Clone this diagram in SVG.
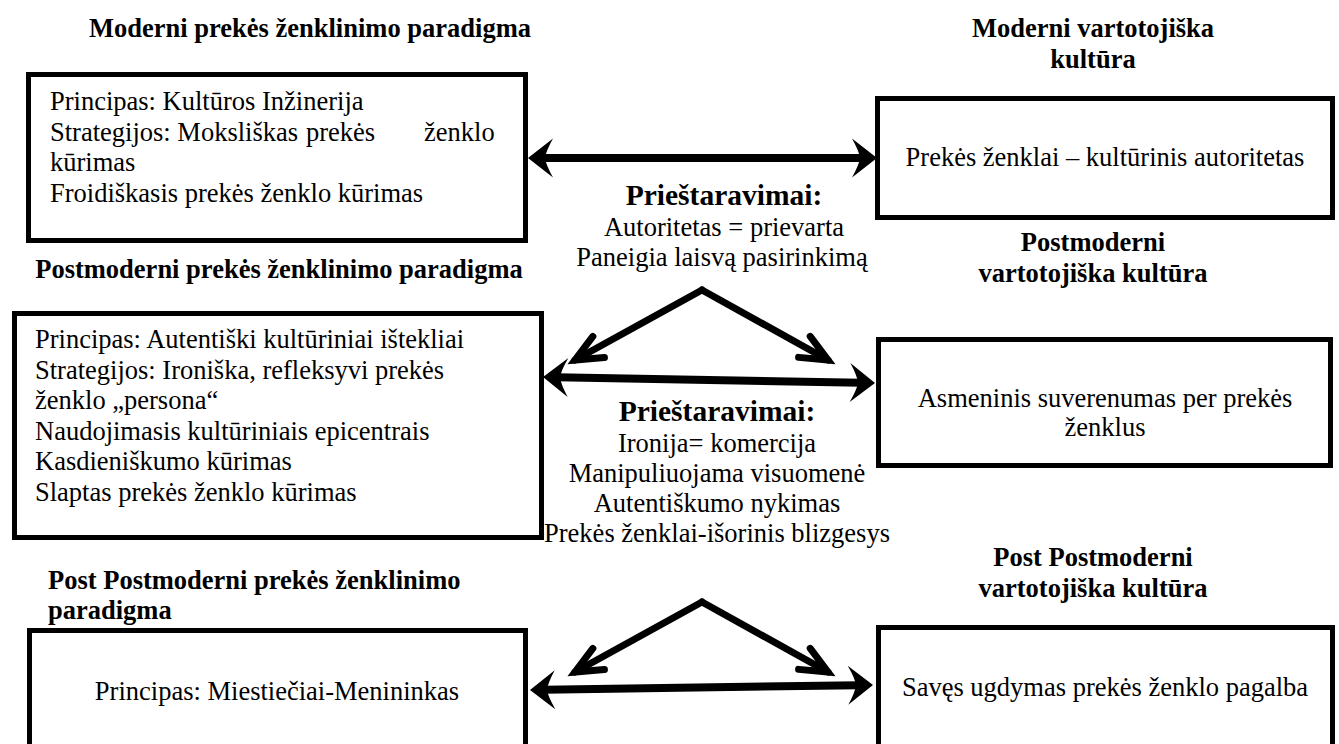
<svg xmlns="http://www.w3.org/2000/svg" width="1339" height="744" viewBox="0 0 1339 744">
  <style>
    text { font-family: "Liberation Serif", Tinos, "Nimbus Roman", "Times New Roman", Times, "DejaVu Serif", "Noto Serif", serif; fill: #000; }
    .body { font-size: 26.5px; }
    .title { font-size: 26.5px; font-weight: bold; }
    .head { font-size: 29.5px; font-weight: bold; }
    .mid { text-anchor: middle; }
    .box { fill: #fff; stroke: #000; stroke-width: 5; }
    .shaft { fill: none; stroke: #000; stroke-width: 8; }
    .branch { fill: none; stroke: #000; stroke-width: 7; stroke-linecap: round; }
  </style>
  <defs>
    <!-- filled, notched arrowhead; tip sits 14px beyond the line end -->
    <marker id="solidHead" markerUnits="userSpaceOnUse" orient="auto-start-reverse" refX="0" refY="0" markerWidth="1" markerHeight="1" overflow="visible">
      <path d="M14,0 L-11,-19.5 Q-4,-7 -3,0 Q-4,7 -11,19.5 Z" fill="#000"/>
    </marker>
    <!-- open V arrowhead -->
    <marker id="openHead" markerUnits="userSpaceOnUse" orient="auto" refX="0" refY="0" markerWidth="1" markerHeight="1" overflow="visible">
      <path d="M-27,-12 L0,0 L-27,12" fill="none" stroke="#000" stroke-width="7" stroke-linecap="round" stroke-linejoin="miter"/>
    </marker>
  </defs>

  <rect width="1339" height="744" fill="#fff"/>

  <!-- section headings -->
  <g id="headings">
    <text class="title mid" x="310" y="37">Moderni prekės ženklinimo paradigma</text>
    <text class="title mid" x="1093" y="37">Moderni vartotojiška</text>
    <text class="title mid" x="1093" y="68">kultūra</text>
    <text class="title mid" x="279" y="278">Postmoderni prekės ženklinimo paradigma</text>
    <text class="title mid" x="1093" y="251">Postmoderni</text>
    <text class="title mid" x="1093" y="282">vartotojiška kultūra</text>
    <text class="title" x="48" y="589">Post Postmoderni prekės ženklinimo</text>
    <text class="title" x="48" y="619">paradigma</text>
    <text class="title mid" x="1093" y="566">Post Postmoderni</text>
    <text class="title mid" x="1093" y="597">vartotojiška kultūra</text>
  </g>

  <g id="modern-paradigm">
    <rect class="box" x="28.5" y="74.5" width="497" height="166"/>
    <text class="body" x="50" y="110">Principas: Kultūros Inžinerija</text>
    <text class="body" y="140.5"><tspan x="50">Strategijos: Moksliškas</tspan><tspan x="306">prekės</tspan><tspan x="424">ženklo</tspan></text>
    <text class="body" x="50" y="171">kūrimas</text>
    <text class="body" x="50" y="201.5">Froidiškasis prekės ženklo kūrimas</text>
  </g>

  <g id="modern-culture">
    <rect class="box" x="877.5" y="98.5" width="455" height="119"/>
    <text class="body mid" x="1105" y="166">Prekės ženklai – kultūrinis autoritetas</text>
  </g>

  <g id="postmodern-paradigm">
    <rect class="box" x="14.5" y="313.5" width="527" height="224"/>
    <text class="body" x="35" y="348">Principas: Autentiški kultūriniai ištekliai</text>
    <text class="body" x="35" y="378.5">Strategijos: Ironiška, refleksyvi prekės</text>
    <text class="body" x="35" y="409">ženklo „persona“</text>
    <text class="body" x="35" y="439.5">Naudojimasis kultūriniais epicentrais</text>
    <text class="body" x="35" y="470">Kasdieniškumo kūrimas</text>
    <text class="body" x="35" y="500.5">Slaptas prekės ženklo kūrimas</text>
  </g>

  <g id="postmodern-culture">
    <rect class="box" x="878.5" y="339.5" width="452" height="126"/>
    <text class="body mid" x="1105" y="407">Asmeninis suverenumas per prekės</text>
    <text class="body mid" x="1105" y="436">ženklus</text>
  </g>

  <g id="postpostmodern-paradigm">
    <rect class="box" x="29.5" y="630.5" width="496" height="140"/>
    <text class="body mid" x="277" y="700">Principas: Miestiečiai-Menininkas</text>
  </g>

  <g id="postpostmodern-culture">
    <rect class="box" x="878.5" y="627.5" width="454" height="140"/>
    <text class="body mid" x="1105" y="696">Savęs ugdymas prekės ženklo pagalba</text>
  </g>

  <!-- contradiction notes between the columns -->
  <g id="contradictions-1">
    <text class="head mid" x="724" y="205">Prieštaravimai:</text>
    <text class="body mid" x="724" y="236">Autoritetas = prievarta</text>
    <text class="body mid" x="722" y="266">Paneigia laisvą pasirinkimą</text>
  </g>
  <g id="contradictions-2">
    <text class="head mid" x="717" y="421">Prieštaravimai:</text>
    <text class="body mid" x="717" y="452">Ironija= komercija</text>
    <text class="body mid" x="717" y="482">Manipuliuojama visuomenė</text>
    <text class="body mid" x="717" y="512">Autentiškumo nykimas</text>
    <text class="body mid" x="717" y="542">Prekės ženklai-išorinis blizgesys</text>
  </g>

  <g id="connectors">
    <!-- two-way links between paradigm and culture -->
    <path class="shaft" d="M542,158 L863,158" marker-start="url(#solidHead)" marker-end="url(#solidHead)"/>
    <path class="shaft" d="M557,377.3 L861,382.7" marker-start="url(#solidHead)" marker-end="url(#solidHead)"/>
    <path class="shaft" d="M544,689.8 L859,685.2" marker-start="url(#solidHead)" marker-end="url(#solidHead)"/>
    <!-- diverging arrows from the contradiction points -->
    <path class="branch" d="M702,290 L575,360" marker-end="url(#openHead)"/>
    <path class="branch" d="M702,290 L828,360" marker-end="url(#openHead)"/>
    <path class="branch" d="M702,602 L575,672" marker-end="url(#openHead)"/>
    <path class="branch" d="M702,602 L828,672" marker-end="url(#openHead)"/>
  </g>
</svg>
